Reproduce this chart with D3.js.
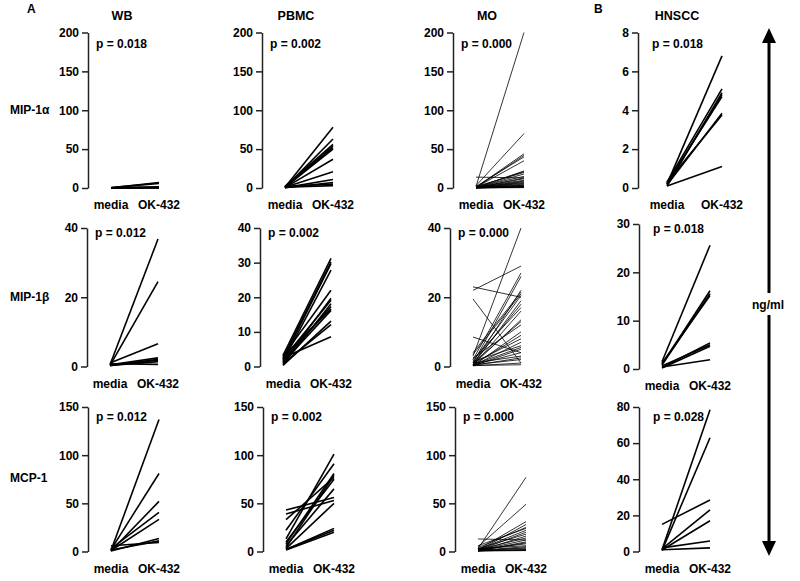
<!DOCTYPE html>
<html><head><meta charset="utf-8">
<script src="https://cdn.jsdelivr.net/npm/d3@7"></script>
<style>
body{margin:0;background:#fff}
text{font-family:"Liberation Sans",Arial,sans-serif;font-weight:bold;fill:#000}
</style>
</head><body>
<svg id="chart" width="800" height="581"></svg>
<script>
// ---------- DATA ----------
const rowLabels = ["MIP-1α", "MIP-1β", "MCP-1"];
const colLabels = ["WB", "PBMC", "MO", "HNSCC"];
const conditions = ["media", "OK-432"];
const pValues = [
  ["p = 0.018", "p = 0.002", "p = 0.000", "p = 0.018"],
  ["p = 0.012", "p = 0.002", "p = 0.000", "p = 0.018"],
  ["p = 0.012", "p = 0.002", "p = 0.000", "p = 0.028"]
];
const yMax = [
  [200, 200, 200, 8],
  [40, 40, 40, 30],
  [150, 150, 150, 80]
];
const yTicks = [
  [[0,50,100,150,200],[0,50,100,150,200],[0,50,100,150,200],[0,2,4,6,8]],
  [[0,20,40],[0,10,20,30,40],[0,20,40],[0,10,20,30]],
  [[0,50,100,150],[0,50,100,150],[0,50,100,150],[0,20,40,60,80]]
];

// MIP-1α
const wbMip1aMedia = [0.3,0.5,0.2,0.4,0.1,0.3,0.2];
const wbMip1aOk    = [7,6,1.5,1,0.5,0.4,0.2];
const pbmcMip1aMedia = [1,0.5,2,1,0.5,1,0.5,1,0.5,0.3,2,1];
const pbmcMip1aOk    = [78,63,56,54,52,50,37,21,11,7,5,3];
const moMip1aMedia = [2,3,1,0.5,2,1,0.5,1,2,0.5,1,0.3,0.5,1,0.2,0.5,0.3,1,0.5,0.2,0.3,0.5,0.2,0.1,0.3,0.2,0.1,14];
const moMip1aOk    = [200,70,44,42,40,35,22,21,20,18,15,13,12,10,9,8,7,6,5,4,3.5,3,2,2,1,1,0.5,13];
const hnMip1aMedia = [0.2,0.3,0.1,0.2,0.25,0.15,0.3,0.1];
const hnMip1aOk    = [6.8,5.1,4.9,4.8,4.7,3.85,3.75,1.1];

// MIP-1β
const wbMip1bMedia = [0.5,0.3,1.0,0.5,0.2,0.4,0.3,0.8];
const wbMip1bOk    = [36.8,24.5,6.6,2.5,2.1,1.8,1.4,0.6];
const pbmcMip1bMedia = [3.2,2.5,2,1.5,3,1,2.2,0.5,1.8,2.8,1.2,0.3,0.8,2.5];
const pbmcMip1bOk    = [31.2,30.2,29.7,27.8,22,19.7,19.1,18.1,17.3,16.6,16.2,13.1,12.1,8.6];
const moMip1bMedia = [22,23,19.5,8.5,3,2,1,0.5,4,3.5,1.5,0.5,1,2,0.3,0.5,1,2.5,0.2,0.5,1,0.3,1.5,0.5,0.2,0.4,1,0.3,0.5,0.2,0.3];
const moMip1bOk    = [29,20,1,4,40,27,26,22,21.5,21,20.5,19,18,17,16,13.5,13,12,10,9,8,7,6,5.5,5,4,3,2.5,2,1,0.5];
const hnMip1bMedia = [1.5,1,0.8,1.2,0.3,0.6,0.2,0.4];
const hnMip1bOk    = [25.6,16.2,15.6,15.2,5.4,5.0,4.7,1.9];

// MCP-1
const wbMcp1Media = [1,2,0.5,3,1,0.5,1.5,6];
const wbMcp1Ok    = [137,81,52,40.6,33.3,13.5,11,9.4];
const pbmcMcp1Media = [43,39,33,22,13,10,8,6,4,3,2,2,1.5];
const pbmcMcp1Ok    = [56,53,77,91,101,75,81,65,79,50,24,22,20];
const moMcp1Media = [3,5,2,1,4,6,2,1,3,0.5,2,1,13,0.5,1,2,3,1,0.5,2,1,0.5,1,0.5];
const moMcp1Ok    = [77,49,31,28,25,24,22,20,18,16,14,12,12,10,9,8,6,5,4,3,2,2,1,1];
const hnMcp1Media = [1,0.5,15,1.5,0.8,2,1];
const hnMcp1Ok    = [78.5,63,28.5,23,17,5.8,2];

const panelData = [
  [[wbMip1aMedia,wbMip1aOk],[pbmcMip1aMedia,pbmcMip1aOk],[moMip1aMedia,moMip1aOk],[hnMip1aMedia,hnMip1aOk]],
  [[wbMip1bMedia,wbMip1bOk],[pbmcMip1bMedia,pbmcMip1bOk],[moMip1bMedia,moMip1bOk],[hnMip1bMedia,hnMip1bOk]],
  [[wbMcp1Media,wbMcp1Ok],[pbmcMcp1Media,pbmcMcp1Ok],[moMcp1Media,moMcp1Ok],[hnMcp1Media,hnMcp1Ok]]
];

// ---------- LAYOUT ----------
const rowY = [[32.5,188],[228,366.5],[407,551.5]];
const rowYOverride = {"1-3":[224,369]};
const axisX = [[88,262,453,638],[87,260,450,639],[88,263,455,639]];
const xOff = {"0-3":[29,84]};
const pOffY = [15, 9, 14];
const rowLabelY = [114, 301, 482];

const svg = d3.select("#chart");

svg.append("text").attr("x",27).attr("y",13).attr("font-size",12).text("A");
svg.append("text").attr("x",594).attr("y",13).attr("font-size",12).text("B");

rowLabels.forEach((lab,r)=>{
  svg.append("text").attr("x",10).attr("y",rowLabelY[r]).attr("font-size",12).text(lab);
});

colLabels.forEach((lab,c)=>{
  const cx = axisX[0][c] + (c===3?39:34);
  svg.append("text").attr("x",cx).attr("y",20).attr("text-anchor","middle").attr("font-size",12.5).text(lab);
});

for(let r=0;r<3;r++){
  for(let c=0;c<4;c++){
    const key = r+"-"+c;
    const [top,bottom] = rowYOverride[key] || rowY[r];
    const ax = axisX[r][c];
    const [o1,o2] = xOff[key] || [23,71];
    const y = d3.scaleLinear().domain([0,yMax[r][c]]).range([bottom,top]);
    const x = d3.scalePoint().domain(conditions).range([ax+o1, ax+o2]);
    const g = svg.append("g");
    const axis = g.append("g").attr("transform",`translate(${ax},0)`)
      .call(d3.axisLeft(y).tickValues(yTicks[r][c]).tickSize(6).tickSizeOuter(0).tickPadding(3));
    axis.selectAll("path,line").attr("stroke","#222").attr("stroke-width",1.5);
    axis.selectAll("text").attr("font-size",12).attr("font-family",'"Liberation Sans",Arial,sans-serif').attr("font-weight","bold").attr("fill","#000");
    const [med,ok] = panelData[r][c];
    const lw = c===2 ? 0.8 : 1.6;
    g.selectAll("line.d").data(d3.range(med.length)).enter().append("line")
      .attr("x1",x("media")).attr("y1",i=>y(med[i]))
      .attr("x2",x("OK-432")).attr("y2",i=>y(ok[i]))
      .attr("stroke","#000").attr("stroke-width",lw);
    conditions.forEach(cond=>{
      g.append("text").attr("x",x(cond)).attr("y",bottom+21).attr("text-anchor","middle")
        .attr("font-size",12).text(cond);
    });
    g.append("text").attr("x",ax+(c===3?14:8)).attr("y",top+pOffY[r]).attr("font-size",12).text(pValues[r][c]);
  }
}

// unit arrow
const arrowX = 769;
svg.append("line").attr("x1",arrowX).attr("x2",arrowX).attr("y1",40).attr("y2",545)
  .attr("stroke","#000").attr("stroke-width",3);
svg.append("path").attr("d",`M${arrowX},28 L${arrowX-7},43 L${arrowX+7},43 Z`).attr("fill","#000");
svg.append("path").attr("d",`M${arrowX},556 L${arrowX-7},541 L${arrowX+7},541 Z`).attr("fill","#000");
svg.append("rect").attr("x",arrowX-20).attr("y",293).attr("width",40).attr("height",22).attr("fill","#fff");
svg.append("text").attr("x",arrowX-1).attr("y",309).attr("text-anchor","middle").attr("font-size",12).text("ng/ml");
</script>
</body></html>
